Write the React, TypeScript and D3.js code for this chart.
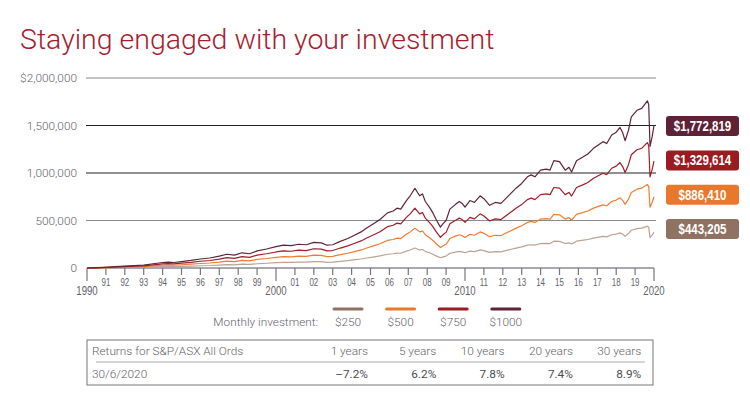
import React from "react";
import * as d3 from "d3";

const width = 750;
const height = 393;

const marginLeft = 87;
const chartRight = 654;
const chartTop = 78;
const chartBottomY = 268;

// value of the $1000 a month plan (thousands of dollars)
const years = [
  1990.0, 1990.5, 1991.0, 1991.5, 1992.0, 1992.5, 1993.0, 1993.5, 1994.0, 1994.3,
  1994.6, 1995.0, 1995.5, 1996.0, 1996.5, 1997.0, 1997.4, 1997.8, 1998.2, 1998.6,
  1999.0, 1999.5, 2000.0, 2000.4, 2000.8, 2001.2, 2001.6, 2002.0, 2002.4, 2002.7,
  2003.0, 2003.4, 2003.8, 2004.1, 2004.5, 2004.8, 2005.2, 2005.5, 2005.9, 2006.2,
  2006.4, 2006.6, 2006.9, 2007.1, 2007.35, 2007.6, 2007.75, 2007.9, 2008.15, 2008.3,
  2008.5, 2008.7, 2008.85, 2009.0, 2009.2, 2009.5, 2009.7, 2009.85, 2010.0, 2010.26,
  2010.5, 2010.8, 2011.0, 2011.3, 2011.6, 2011.9, 2012.1, 2012.4, 2012.7, 2013.0,
  2013.3, 2013.5, 2013.7, 2014.0, 2014.3, 2014.5, 2014.7, 2015.0, 2015.3, 2015.5,
  2015.64, 2015.9, 2016.26, 2016.5, 2016.8, 2017.3, 2017.5, 2017.76, 2018.0, 2018.2,
  2018.35, 2018.47, 2018.65, 2018.8, 2019.1, 2019.35, 2019.5, 2019.65, 2019.72, 2019.79,
  2019.9, 2020.0,
];
const plan1000 = [
  0, 3, 8, 14, 20, 25, 30, 45, 58, 62,
  58, 68, 80, 95, 105, 125, 145, 135, 160, 150,
  180, 200, 225, 240, 235, 250, 245, 270, 265, 240,
  245, 280, 310, 340, 380, 420, 470, 510, 580, 600,
  630, 620, 710, 760, 840, 760, 780, 700, 630, 580,
  500, 430, 470, 500, 620, 670, 700, 680, 640, 710,
  690, 760, 730, 660, 690, 680, 720, 780, 840, 890,
  960, 980, 960, 1030, 1040, 1030, 1130, 1120, 1030, 1060,
  1010, 1130, 1170, 1200, 1260, 1330, 1310, 1400, 1430, 1480,
  1420, 1340, 1450, 1590, 1660, 1680, 1720, 1760, 1720, 1280,
  1380, 1500,
];

const amounts = [250, 500, 750, 1000];
const seriesNames = ["$250", "$500", "$750", "$1000"];
const lineColors = ["#bba295", "#ee7d32", "#9e1f26", "#5f2338"];
const boxColors = ["#8f7262", "#e8782a", "#9a1b20", "#5d2236"];
const endLabels = ["$443,205", "$886,410", "$1,329,614", "$1,772,819"];

const yTicks = [0, 500000, 1000000, 1500000, 2000000];
const gridColors = ["none", "#8a8a8a", "#222", "#222", "#8a8a8a"];

const periods = ["1 years", "5 years", "10 years", "20 years", "30 years"];
const returns = ["\u20137.2%", "6.2%", "7.8%", "7.4%", "8.9%"];

const grayText = "#5f6368";
const lightFont = "Roboto, 'Liberation Sans', sans-serif";
const narrowFont = "'Liberation Sans Narrow', 'Liberation Sans', sans-serif";

export default function App() {
  const xScale = d3.scaleLinear().domain([1990, 2020]).range([marginLeft, chartRight]);
  const yScale = d3.scaleLinear().domain([0, 2000000]).range([chartBottomY, chartTop]);

  // each plan is the $1000 plan scaled by its monthly amount
  const series = amounts.map((a) =>
    years.map((yr, i) => ({ year: yr, value: plan1000[i] * a }))
  );

  const line = d3
    .line<{ year: number; value: number }>()
    .x((d) => xScale(d.year))
    .y((d) => yScale(d.value));

  const axisYears = d3.range(1990, 2021);
  const fmt = d3.format(",");

  return (
    <svg
      width={width}
      height={height}
      viewBox={`0 0 ${width} ${height}`}
      style={{ position: "absolute", left: 0, top: 0, background: "#fff" }}
    >
      <text x={20} y={49} fontFamily={lightFont} fontWeight={300} fontSize={28.5} fill="#a51c30">
        Staying engaged with your investment
      </text>

      {/* gridlines and y labels */}
      {yTicks.map((t, i) => (
        <g key={t}>
          {i > 0 && (
            <line x1={marginLeft - 1} x2={chartRight + 2} y1={yScale(t)} y2={yScale(t)} stroke={gridColors[i]} strokeWidth={1} />
          )}
          <text
            x={77}
            y={yScale(t)}
            dy="0.35em"
            textAnchor="end"
            fontFamily={lightFont}
            fontWeight={300}
            fontSize={11.8}
            fill={grayText}
          >
            {i === yTicks.length - 1 ? "$" + fmt(t) : fmt(t)}
          </text>
        </g>
      ))}

      {/* x axis */}
      <line x1={marginLeft} x2={chartRight} y1={chartBottomY} y2={chartBottomY} stroke="#a7a9ac" strokeWidth={2} />
      {axisYears.map((yr) => {
        const decade = yr % 10 === 0;
        const x = xScale(yr);
        return (
          <g key={yr}>
            <line x1={x} x2={x} y1={chartBottomY} y2={chartBottomY + (decade ? 13 : 7)} stroke="#777" strokeWidth={1.2} />
            <text
              transform={`translate(${x},${decade ? 295 : 286}) scale(${decade ? 0.8 : 0.72},1)`}
              textAnchor="middle"
              fontFamily={narrowFont}
              fontSize={decade ? 12 : 11}
              fill={grayText}
            >
              {decade ? String(yr) : String(yr).slice(2)}
            </text>
          </g>
        );
      })}

      {/* lines */}
      {series.map((s, i) => (
        <path key={i} d={line(s) ?? ""} fill="none" stroke={lineColors[i]} strokeWidth={1.2} strokeLinejoin="round" />
      ))}

      {/* end value boxes */}
      {endLabels.map((lab, i) => {
        const cy = 229 - i * 34.3;
        return (
          <g key={lab}>
            <rect x={666} y={cy - 10} width={73} height={20} rx={3} fill={boxColors[i]} />
            <text
              transform={`translate(702.5,${cy}) scale(0.82,1)`}
              dy="0.36em"
              textAnchor="middle"
              fontFamily={narrowFont}
              fontWeight="bold"
              fontSize={14}
              fill="#fff"
            >
              {lab}
            </text>
          </g>
        );
      })}

      {/* legend */}
      <text x={318} y={322} dy="0.35em" textAnchor="end" fontFamily={lightFont} fontWeight={300} fontSize={11.8} fill={grayText}>
        Monthly investment:
      </text>
      {seriesNames.map((n, i) => {
        const cx = 348 + i * 52.6;
        return (
          <g key={n}>
            <line x1={cx - 14} x2={cx + 14} y1={309} y2={309} stroke={boxColors[i]} strokeWidth={3} strokeLinecap="round" />
            <text x={cx} y={322} dy="0.35em" textAnchor="middle" fontFamily={lightFont} fontWeight={300} fontSize={11.8} fill={grayText}>
              {n}
            </text>
          </g>
        );
      })}

      {/* returns table */}
      <rect x={87} y={340} width={566} height={45} fill="none" stroke="#777" strokeWidth={1} />
      <line x1={96} x2={645} y1={362} y2={362} stroke="#aaa" strokeWidth={1} />
      <text x={92} y={351} dy="0.35em" fontFamily={lightFont} fontWeight={300} fontSize={11.8} fill={grayText}>
        Returns for S&amp;P/ASX All Ords
      </text>
      <text x={92} y={374} dy="0.35em" fontFamily={lightFont} fontWeight={300} fontSize={11.8} fill={grayText}>
        30/6/2020
      </text>
      {periods.map((p, i) => {
        const xr = 368 + i * 68.3;
        return (
          <g key={p}>
            <text x={xr} y={351} dy="0.35em" textAnchor="end" fontFamily={lightFont} fontWeight={300} fontSize={11.8} fill={grayText}>
              {p}
            </text>
            <text x={xr} y={374} dy="0.35em" textAnchor="end" fontFamily={lightFont} fontWeight={400} fontSize={11.8} fill="#4a4d52">
              {returns[i]}
            </text>
          </g>
        );
      })}
    </svg>
  );
}
